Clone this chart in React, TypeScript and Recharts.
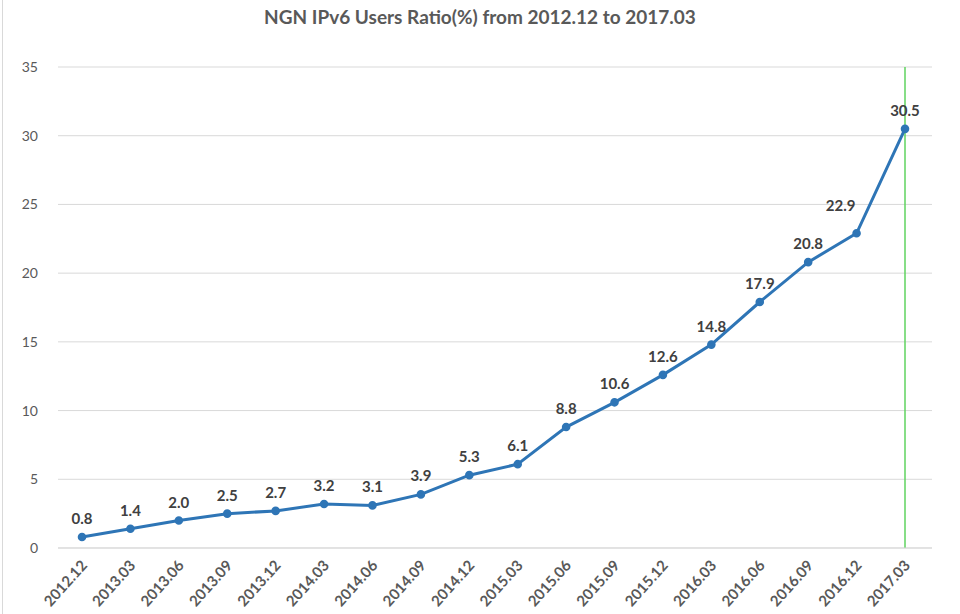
import React from 'react';
import {
  LineChart,
  Line,
  XAxis,
  YAxis,
  CartesianGrid,
  ReferenceLine,
  LabelList,
} from 'recharts';

const periods = [
  '2012.12', '2013.03', '2013.06', '2013.09', '2013.12', '2014.03',
  '2014.06', '2014.09', '2014.12', '2015.03', '2015.06', '2015.09',
  '2015.12', '2016.03', '2016.06', '2016.09', '2016.12', '2017.03',
];

const ratios = [
  0.8, 1.4, 2.0, 2.5, 2.7, 3.2, 3.1, 3.9, 5.3, 6.1, 8.8, 10.6, 12.6, 14.8,
  17.9, 20.8, 22.9, 30.5,
];

const yTicks = [0, 5, 10, 15, 20, 25, 30, 35];

const FONT = 'Lato, "Open Sans", sans-serif';

const data = periods.map((p, i) => ({ period: p, ratio: ratios[i] }));

const XTick = (props: any) => {
  const { x, y, payload } = props;
  return (
    <g transform={`translate(${x + 6},${y + 10})`}>
      <text
        textAnchor="end"
        transform="rotate(-48)"
        fontSize={15}
        fontWeight={700}
        fill="#595959"
        fontFamily={FONT}
      >
        {payload.value}
      </text>
    </g>
  );
};

// Excel nudged the 2016.12 label up-left so it clears the steep segment
const ValueLabel = (props: any) => {
  const { x, y, value, index } = props;
  const shifted = index === periods.length - 2;
  return (
    <text
      x={shifted ? x - 16 : x}
      y={shifted ? y - 22 : y - 13}
      textAnchor="middle"
      fontSize={15}
      fontWeight={700}
      fill="#404040"
      fontFamily={FONT}
    >
      {Number(value).toFixed(1)}
    </text>
  );
};

export default function App() {
  return (
    <div style={{ position: 'absolute', left: 0, top: 0, width: 960, height: 614, background: '#fff' }}>
      <div
        style={{
          position: 'absolute',
          left: 2,
          top: 0,
          width: 1,
          height: 614,
          background: '#d9d9d9',
        }}
      />
      <div
        style={{
          position: 'absolute',
          top: 5,
          width: 960,
          textAlign: 'center',
          fontFamily: FONT,
          fontWeight: 700,
          fontSize: 19,
          color: '#595959',
        }}
      >
        NGN IPv6 Users Ratio(%) from 2012.12 to 2017.03
      </div>
      <LineChart
        width={960}
        height={614}
        data={data}
        margin={{ top: 67, right: 28, bottom: 0, left: 0 }}
      >
        <CartesianGrid vertical={false} stroke="#d9d9d9" />
        <XAxis
          dataKey="period"
          interval={0}
          height={66}
          padding={{ left: 24, right: 27 }}
          axisLine={{ stroke: '#d9d9d9' }}
          tickLine={false}
          tick={<XTick />}
        />
        <YAxis
          width={58}
          domain={[0, 35]}
          ticks={yTicks}
          axisLine={false}
          tickLine={false}
          tick={{ fontSize: 14, fill: '#595959', fontFamily: FONT }}
          tickMargin={14}
        />
        <ReferenceLine x="2017.03" stroke="#5fd35f" strokeWidth={1.5} />
        <Line
          type="linear"
          dataKey="ratio"
          stroke="#2e75b6"
          strokeWidth={3}
          dot={{ r: 2.8, fill: '#2e75b6', stroke: '#2e75b6' }}
          isAnimationActive={false}
        >
          <LabelList dataKey="ratio" content={<ValueLabel />} />
        </Line>
      </LineChart>
    </div>
  );
}
